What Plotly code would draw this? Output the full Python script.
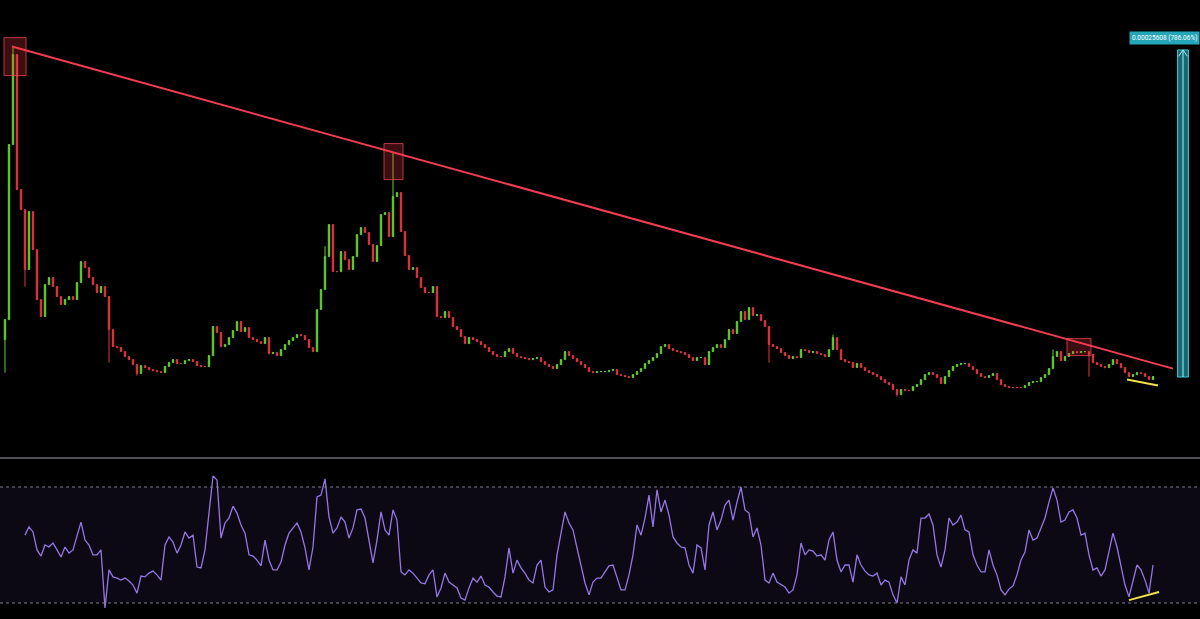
import plotly.graph_objects as go

# ---------------- data (prices in satoshi, 1e-8 BTC) ----------------
first_open = 6186
close = [
    7752, 21454, 28501, 17931, 16365, 11667, 16208, 13233, 9318, 7987,
    10492, 11040, 10336, 9553, 8926, 9318, 9553, 9318, 10649, 12293,
    11823, 11040, 10492, 9866, 10336, 9553, 6969, 5638, 5559, 5246,
    4855, 4620, 4228, 3524, 4150, 3993, 3837, 3758, 3680, 3602,
    4072, 4385, 4620, 4307, 4307, 4541, 4620, 4463, 4150, 4072,
    4072, 4933, 7204, 6734, 5638, 5794, 6342, 6890, 7595, 6812,
    7125, 6342, 6186, 6029, 5873, 6342, 5090, 5168, 4933, 5403,
    5794, 6107, 6342, 6577, 6499, 6186, 5559, 5246, 8535, 10101,
    12685, 15190, 11510, 11510, 13076, 12450, 11667, 12685, 14407, 14955,
    14564, 13624, 12293, 13546, 15973, 16130, 14251, 17383, 17696, 14642,
    12763, 11667, 11823, 11040, 10257, 9866, 9866, 10336, 7987, 7908,
    8378, 7908, 7204, 6969, 6421, 5873, 6342, 6186, 6029, 5794,
    5559, 5246, 5011, 4855, 4855, 5246, 5481, 5090, 4855, 4776,
    4698, 4620, 4698, 4776, 4463, 4228, 4072, 3915, 4228, 4620,
    5246, 4933, 4698, 4463, 4228, 3993, 3680, 3602, 3680, 3680,
    3680, 3758, 3837, 3445, 3367, 3289, 3210, 3445, 3680, 3915,
    4307, 4541, 4776, 5090, 5638, 5794, 5481, 5324, 5246, 5168,
    5011, 4776, 4541, 4776, 4776, 4228, 5246, 5559, 5794, 5559,
    6186, 6969, 6656, 7595, 8378, 7752, 8691, 8065, 8143, 7673,
    7204, 5794, 5638, 5481, 5168, 4933, 4698, 4855, 4776, 5403,
    5324, 5168, 5246, 5090, 5011, 4855, 5403, 6342, 5403, 4620,
    4463, 4385, 3993, 4307, 3993, 3758, 3602, 3445, 3289, 3054,
    2819, 2662, 2271, 1879, 2271, 2192, 2192, 2506, 2662, 3054,
    3445, 3602, 3445, 3210, 2741, 3289, 3758, 4072, 4228, 4307,
    4307, 4072, 3837, 3524, 3289, 3210, 3367, 3524, 3054, 2662,
    2506, 2427, 2427, 2427, 2427, 2584, 2819, 2897, 2897, 3210,
    3445, 3915, 4855, 5246, 4541, 4855, 5090, 5246, 5168, 5246,
    5246, 5011, 4385, 4228, 4072, 3993, 4228, 4620, 4307, 3993,
    3602, 3289, 3445, 3602, 3524, 3289, 3054, 3289,
]
# notable wicks: index -> (high, low)
wick_high = {2: 29050, 97: 20828, 207: 6577, 262: 5403, 80: 13500}
wick_low = {0: 3602, 5: 10336, 26: 4385, 191: 4385, 223: 1723, 271: 3289, 33: 3367}

rsi_start = 5
rsi = [
    53.4, 56.2, 54.5, 48.3, 46.2, 50.0, 49.3, 50.7, 48.3, 45.9,
    49.3, 47.2, 48.3, 53.4, 57.9, 51.7, 50.0, 46.6, 46.6, 48.3,
    28.3, 41.4, 39.0, 38.6, 37.9, 38.6, 37.6, 36.2, 33.4, 39.3,
    39.0, 40.3, 41.0, 39.7, 37.9, 50.0, 52.8, 51.0, 47.2, 50.0,
    54.5, 52.4, 53.4, 42.4, 42.1, 48.3, 62.1, 73.8, 72.4, 52.4,
    57.6, 59.3, 63.4, 61.0, 56.9, 54.1, 46.6, 46.2, 44.8, 42.8,
    51.7, 44.8, 41.4, 41.4, 44.1, 50.0, 54.1, 55.9, 57.6, 54.5,
    49.0, 41.4, 49.3, 66.6, 67.2, 72.8, 59.7, 54.1, 55.9, 59.7,
    57.9, 52.4, 55.9, 62.1, 62.4, 59.3, 51.0, 43.8, 51.7, 61.4,
    55.2, 53.4, 62.1, 58.6, 40.7, 39.7, 41.4, 40.3, 38.6, 36.9,
    36.6, 39.7, 41.4, 32.1, 35.2, 40.3, 37.2, 36.2, 35.2, 31.7,
    31.0, 35.2, 38.6, 37.2, 39.3, 36.2, 35.5, 33.8, 32.4, 32.1,
    39.0, 49.0, 40.3, 44.8, 42.1, 40.3, 37.9, 36.9, 43.1, 44.8,
    35.5, 33.8, 34.5, 46.6, 53.4, 61.4, 57.6, 55.2, 49.0, 43.1,
    36.9, 32.8, 37.2, 38.6, 38.6, 40.7, 42.8, 43.1, 38.6, 34.5,
    34.5, 39.7, 46.6, 56.9, 53.4, 59.3, 67.2, 56.2, 69.0, 61.4,
    65.5, 60.3, 52.8, 50.7, 49.3, 49.0, 43.1, 40.3, 50.0, 49.0,
    41.4, 56.9, 61.4, 55.2, 58.6, 63.8, 65.5, 58.6, 64.8, 70.0,
    62.1, 61.0, 52.8, 55.9, 50.0, 37.9, 36.9, 40.3, 37.2, 36.2,
    35.5, 33.4, 34.5, 39.7, 50.7, 46.6, 48.3, 47.9, 46.2, 46.6,
    44.8, 51.7, 54.5, 44.8, 40.7, 43.1, 43.1, 37.2, 46.6, 43.1,
    41.0, 39.7, 39.3, 40.3, 36.2, 37.9, 37.2, 32.8, 30.0, 39.0,
    36.2, 44.8, 48.3, 47.2, 59.3, 59.3, 60.7, 56.9, 46.6, 42.4,
    48.3, 59.3, 56.9, 57.9, 60.3, 55.2, 54.5, 46.6, 43.1, 40.7,
    40.7, 48.3, 43.1, 39.7, 34.5, 32.8, 34.8, 35.9, 39.7, 44.8,
    47.6, 55.2, 51.7, 52.4, 56.2, 59.3, 64.8, 69.7, 65.5, 57.9,
    58.6, 61.4, 62.1, 59.3, 53.4, 54.1, 46.6, 41.4, 42.1, 39.3,
    41.4, 48.3, 54.1, 49.3, 43.1, 36.2, 32.1, 37.9, 43.1, 41.4,
    37.9, 33.4, 43.1,
]
rsi_upper, rsi_lower = 70, 30

# drawings
trend_x = [1.75, 292.0]
trend_y = [29130, 3915]
boxes = [  # (x0, x1, y0, y1)
    (-0.25, 5.25, 26857, 29832),
    (94.75, 99.5, 18714, 21533),
    (265.5, 271.5, 4933, 6264),
]
support_x = [280.5, 288.25]
support_y = [3054, 2584]
rsi_support_x = [281.0, 288.5]
rsi_support_y = [31.0, 33.8]
measure_x = 294.5
measure_low, measure_high = 3258, 28866
measure_label = "0.00025608 (786.06%)"

# ---------------- build ----------------
n = len(close)
idx = list(range(n))
opens = [first_open] + close[:-1]
highs = [max(o, c) for o, c in zip(opens, close)]
lows = [min(o, c) for o, c in zip(opens, close)]
for k, v in wick_high.items():
    highs[k] = max(highs[k], v)
for k, v in wick_low.items():
    lows[k] = min(lows[k], v)

GREEN = "#62d12f"
RED = "#e5353f"

fig = go.Figure()
fig.add_trace(go.Candlestick(
    x=idx, open=opens, high=highs, low=lows, close=close,
    increasing=dict(line=dict(color=GREEN, width=1), fillcolor=GREEN),
    decreasing=dict(line=dict(color=RED, width=1), fillcolor=RED),
    whiskerwidth=0, xaxis="x", yaxis="y", showlegend=False, hoverinfo="skip",
))

rsi_x = list(range(rsi_start, rsi_start + len(rsi)))
fig.add_trace(go.Scatter(
    x=rsi_x, y=rsi, mode="lines", line=dict(color="#9576e4", width=1.3),
    xaxis="x", yaxis="y2", showlegend=False, hoverinfo="skip",
))

H = 619
price_top_px, price_bot_px = 0, 456
rsi_top_px, rsi_bot_px = 460, 619
px_per_unit_x = 4.0
x0_px = 5.0

shapes = []
# trendline
shapes.append(dict(type="line", xref="x", yref="y", x0=trend_x[0], y0=trend_y[0],
                   x1=trend_x[1], y1=trend_y[1], line=dict(color="#f23c52", width=2)))
for (a, b, c, d) in boxes:
    shapes.append(dict(type="rect", xref="x", yref="y", x0=a, x1=b, y0=c, y1=d,
                       fillcolor="rgba(242,54,69,0.25)",
                       line=dict(color="rgba(242,70,85,0.75)", width=1), layer="above"))
shapes.append(dict(type="line", xref="x", yref="y", x0=support_x[0], y0=support_y[0],
                   x1=support_x[1], y1=support_y[1], line=dict(color="#f2e14c", width=2)))
# measure tool
shapes.append(dict(type="rect", xref="x", yref="y", x0=measure_x - 1.35, x1=measure_x + 1.35,
                   y0=measure_low, y1=measure_high,
                   fillcolor="rgba(38,190,210,0.55)", line=dict(color="#37cfe0", width=1)))
shapes.append(dict(type="line", xref="x", yref="y", x0=measure_x, x1=measure_x,
                   y0=measure_low, y1=measure_high, line=dict(color="#a8eef5", width=1)))
shapes.append(dict(type="path", xref="x", yref="y",
                   path=f"M {measure_x - 1.1},{measure_high - 500} L {measure_x},{measure_high} L {measure_x + 1.1},{measure_high - 500}",
                   line=dict(color="#a8eef5", width=1)))
# separator
shapes.append(dict(type="line", xref="paper", yref="paper", x0=0, x1=1,
                   y0=(H - 458) / H, y1=(H - 458) / H, line=dict(color="#a0a2a8", width=1)))
# RSI band
shapes.append(dict(type="rect", xref="paper", yref="y2", x0=0, x1=1, y0=rsi_lower, y1=rsi_upper,
                   fillcolor="rgba(126,87,194,0.10)", line=dict(width=0), layer="below"))
for lvl in (rsi_upper, rsi_lower):
    shapes.append(dict(type="line", xref="paper", yref="y2", x0=0, x1=1, y0=lvl, y1=lvl,
                       line=dict(color="#787b86", width=1, dash="3px,3px")))
shapes.append(dict(type="line", xref="x", yref="y2", x0=rsi_support_x[0], y0=rsi_support_y[0],
                   x1=rsi_support_x[1], y1=rsi_support_y[1], line=dict(color="#f2e14c", width=2)))

annotations = [dict(
    xref="paper", yref="y", x=1.0, y=29840,
    text=measure_label, showarrow=False, xanchor="right", yanchor="middle",
    font=dict(family="Roboto", size=6.5, color="#ffffff"),
    bgcolor="#25a6b8", borderpad=2,
)]

# price axis range so that sats map onto chart pixels
sats_per_px = 78.3
zero_px = 418.6
price_range = [sats_per_px * (zero_px - price_bot_px), sats_per_px * (zero_px - price_top_px)]
rsi_per_px = 40 / 116.0
rsi_range = [30 - (rsi_bot_px - 603) * rsi_per_px, 30 + (603 - rsi_top_px) * rsi_per_px]

axis_common = dict(showgrid=False, zeroline=False, showticklabels=False, ticks="",
                   showline=False, fixedrange=True)
fig.update_layout(
    width=1200, height=H, margin=dict(l=0, r=0, t=0, b=0),
    paper_bgcolor="#000000", plot_bgcolor="#000000",
    boxgap=0.5,
    xaxis=dict(range=[(0 - x0_px) / px_per_unit_x, (1200 - x0_px) / px_per_unit_x],
               rangeslider=dict(visible=False), anchor="y2", **axis_common),
    yaxis=dict(domain=[(H - price_bot_px) / H, 1.0], range=price_range, **axis_common),
    yaxis2=dict(domain=[0.0, (H - rsi_top_px) / H], range=rsi_range, **axis_common),
    shapes=shapes, annotations=annotations, showlegend=False,
)

fig.write_html("out.html", config={"displayModeBar": False},
               post_script="document.body.style.margin='0';document.body.style.background='#000';")
